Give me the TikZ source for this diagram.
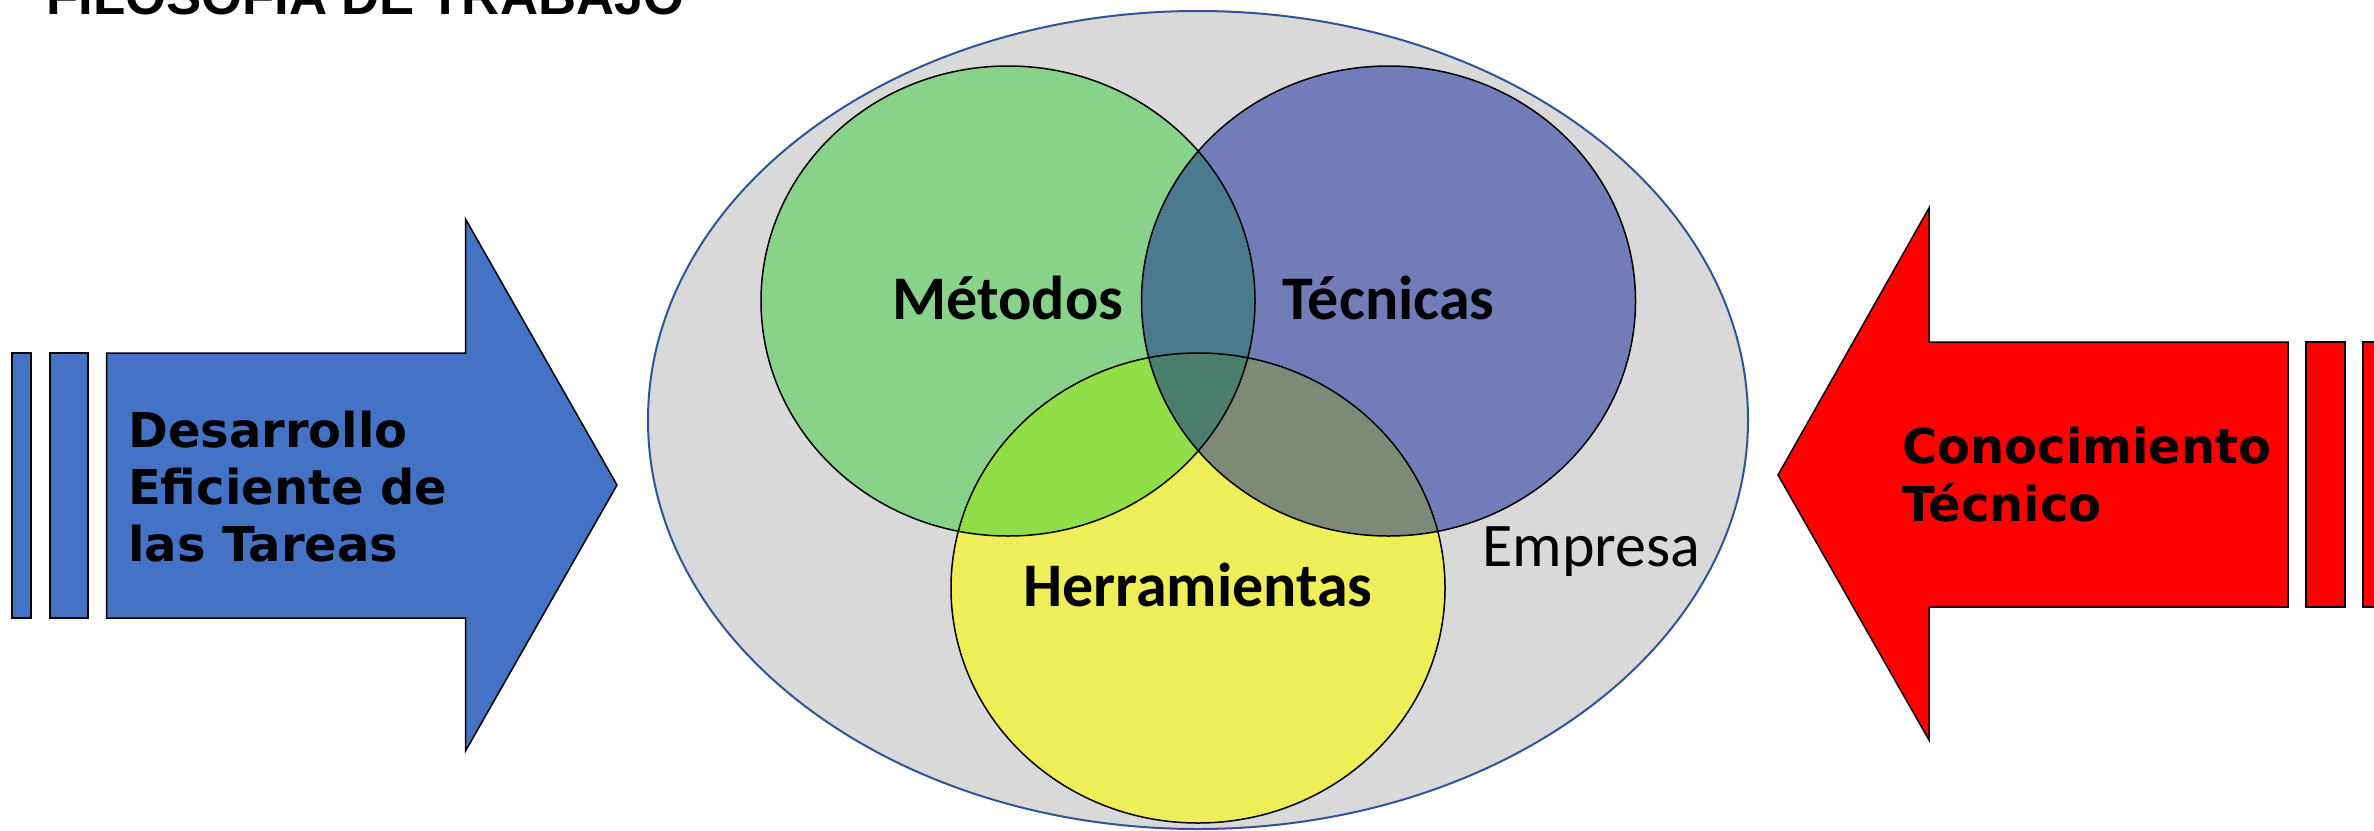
\documentclass[tikz,border=0pt]{standalone}
\usepackage{fontspec}
\setmainfont{Carlito}
\newfontfamily\arrowfont{DejaVu Sans}
\newfontfamily\titlefont{Liberation Sans}
\definecolor{empgray}{HTML}{D9D9D9}
\definecolor{empborder}{HTML}{2F5597}
\definecolor{cgreen}{HTML}{88D28A}
\definecolor{cblue}{HTML}{717CB8}
\definecolor{cyellow}{HTML}{EEEE58}
\definecolor{cgb}{HTML}{4A7A8E}
\definecolor{cgy}{HTML}{90DF48}
\definecolor{cby}{HTML}{7E8A78}
\definecolor{cgby}{HTML}{4B7E6C}
\definecolor{larrow}{HTML}{4472C4}
\definecolor{rarrow}{HTML}{FF0000}
\begin{document}
\begin{tikzpicture}[x=1pt,y=-1pt,
  arrowshape/.style={draw=black, line width=1.5pt, line join=miter},
  arrowtext/.style={anchor=base west, inner sep=0pt, font=\arrowfont\bfseries\fontsize{48}{57}\selectfont},
  venntext/.style={anchor=base, inner sep=0pt, font=\bfseries\fontsize{62}{70}\selectfont},
  vennline/.style={draw=black, line width=1.5pt}]
\useasboundingbox (0,0) rectangle (2374,830);

% title (cut by the top edge)
\node[anchor=base west, inner sep=0pt, font=\titlefont\bfseries\fontsize{52.7}{60}\selectfont] (title) at (46,14) {FILOSOFIA DE TRABAJO};

% Empresa ellipse
\fill[empgray] (1198,420) ellipse [x radius=550, y radius=409];
\draw[empborder, line width=2pt] (1198,420) ellipse [x radius=550, y radius=409];

% Venn circles
\def\G{(1008,301) ellipse [x radius=247, y radius=235]}
\def\B{(1388.5,301) ellipse [x radius=247, y radius=235]}
\def\Y{(1198,588) ellipse [x radius=247, y radius=235]}
\fill[cgreen] \G;
\fill[cblue] \B;
\fill[cyellow] \Y;
\begin{scope}\clip \G; \fill[cgb] \B;\end{scope}
\begin{scope}\clip \G; \fill[cgy] \Y;\end{scope}
\begin{scope}\clip \B; \fill[cby] \Y;\end{scope}
\begin{scope}\clip \G; \clip \B; \fill[cgby] \Y;\end{scope}
\draw[vennline] \G;
\draw[vennline] \B;
\draw[vennline] \Y;

\node[venntext] (metodos) at (1008,319) {Métodos};
\node[venntext] (tecnicas) at (1388.5,319) {Técnicas};
\node[venntext] (herram) at (1198,606) {Herramientas};
\node[anchor=base west, inner sep=0pt, font=\fontsize{62}{70}\selectfont] (empresa) at (1482,566) {Empresa};

% left arrow
\draw[arrowshape, fill=larrow] (12,353) rectangle (31,618);
\draw[arrowshape, fill=larrow] (50,353) rectangle (88,618);
\draw[arrowshape, fill=larrow] (106.5,353) -- (465.5,353) -- (465.5,219) -- (617,485) -- (465.5,751) -- (465.5,618) -- (106.5,618) -- cycle;
\node[arrowtext] (l1) at (128,447) {Desarrollo};
\node[arrowtext] (l2) at (128,504) {Eficiente de};
\node[arrowtext] (l3) at (128,561) {las Tareas};

% right arrow
\draw[arrowshape, fill=rarrow] (2288,342) -- (1929,342) -- (1929,208) -- (1778,475) -- (1929,740) -- (1929,607) -- (2288,607) -- cycle;
\draw[arrowshape, fill=rarrow] (2306,342) rectangle (2345,607);
\draw[arrowshape, fill=rarrow] (2363,342) rectangle (2400,607);
\node[arrowtext] (r1) at (1902,463) {Conocimiento};
\node[arrowtext] (r2) at (1902,521) {Técnico};
\end{tikzpicture}
\end{document}
